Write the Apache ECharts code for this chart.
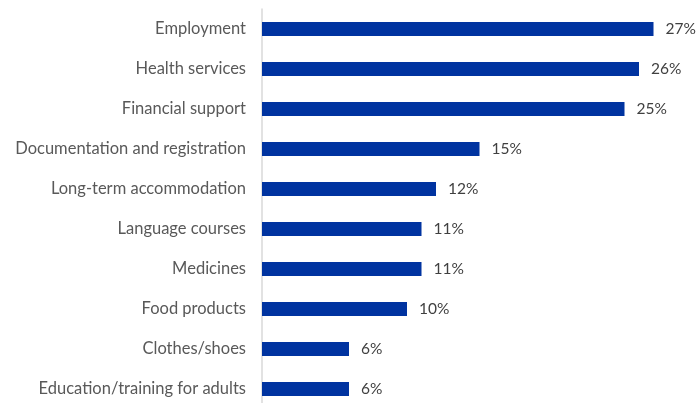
<!DOCTYPE html>
<html>
<head>
<meta charset="utf-8">
<script src="https://cdn.jsdelivr.net/npm/echarts@6/dist/echarts.min.js"></script>
<style>
  html, body { margin: 0; padding: 0; background: #ffffff; }
  #chart { width: 697px; height: 403px; }
</style>
</head>
<body>
<div id="chart"></div>
<script>
// Categories of support needed, top to bottom
const categories = [
  'Employment',
  'Health services',
  'Financial support',
  'Documentation and registration',
  'Long-term accommodation',
  'Language courses',
  'Medicines',
  'Food products',
  'Clothes/shoes',
  'Education/training for adults'
];
// Share of respondents, percent
const shares = [27, 26, 25, 15, 12, 11, 11, 10, 6, 6];

const chart = echarts.init(document.getElementById('chart'));
chart.setOption({
  animation: false,
  grid: {
    left: 262, right: 0, top: 9, height: 400,
    containLabel: false, outerBoundsMode: 'none'
  },
  xAxis: {
    type: 'value', min: 0, max: 30, show: false
  },
  yAxis: {
    type: 'category',
    data: categories,
    inverse: true,
    axisLine: { show: true, lineStyle: { color: '#d9d9d9', width: 1.5 } },
    axisTick: { show: false },
    axisLabel: {
      margin: 16,
      color: '#595959',
      fontFamily: 'Lato',
      fontSize: 16.5
    }
  },
  series: [{
    type: 'bar',
    data: shares,
    barWidth: 14,
    itemStyle: { color: '#0033a0' },
    label: {
      show: true,
      position: 'right',
      distance: 12,
      formatter: p => p.value + '%',
      color: '#404040',
      fontFamily: 'Lato',
      fontSize: 15.5
    }
  }]
});
</script>
</body>
</html>
